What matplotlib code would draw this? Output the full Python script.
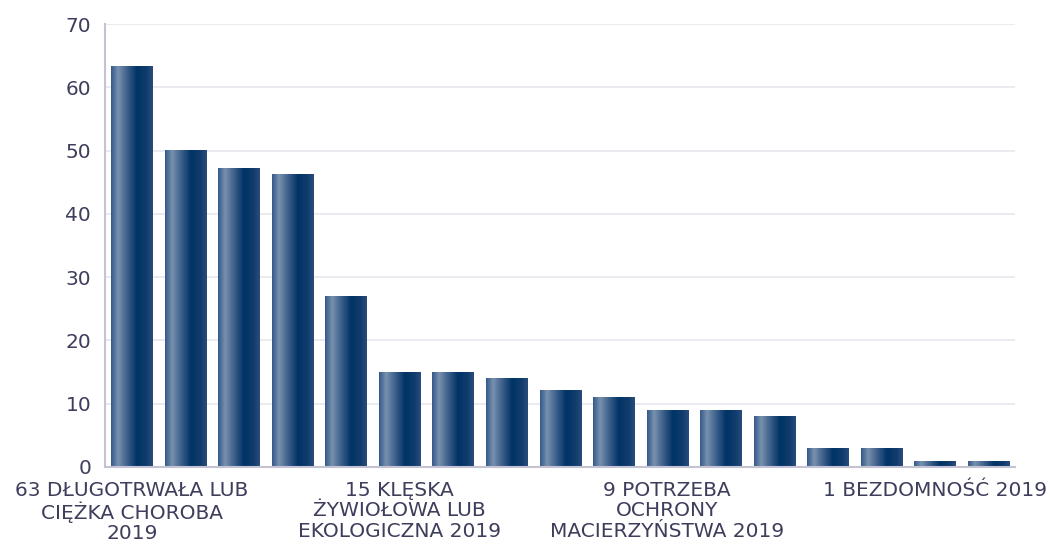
import numpy as np
import matplotlib
matplotlib.use('Agg')
import matplotlib.pyplot as plt
from matplotlib.colors import LinearSegmentedColormap

# values (17 bars, only every 5th labelled)
values = [63.3, 50.1, 47.3, 46.3, 27, 15, 15, 14, 12.1, 11.1, 9, 9, 8, 3, 3, 1, 1]
categories = ['63 DŁUGOTRWAŁA LUB\nCIĘŻKA CHOROBA\n2019', '', '', '', '',
              '15 KLĘSKA\nŻYWIOŁOWA LUB\nEKOLOGICZNA 2019', '', '', '', '',
              '9 POTRZEBA\nOCHRONY\nMACIERZYŃSTWA 2019', '', '', '', '',
              '1 BEZDOMNOŚĆ 2019', '']
y_ticks = [0, 10, 20, 30, 40, 50, 60, 70]

text_color = '#3d3d5c'
grid_color = '#e6e6ee'
axis_color = '#c3c3d3'

# horizontal gradient used to fill each bar
bar_cmap = LinearSegmentedColormap.from_list('bar', [
    (0.0, '#33598a'), (0.17, '#7891ae'), (0.38, '#3f618c'),
    (0.62, '#003366'), (0.85, '#103d6d'), (1.0, '#2a4c7c')])
grad = np.linspace(0, 1, 256).reshape(1, -1)

fig = plt.figure(figsize=(10.5, 5.46), dpi=100)
ax = fig.add_axes([0.1, 0.145, 0.867, 0.811])

x = np.arange(len(values))
bars = ax.bar(x, values, width=0.77, color='none', edgecolor='none', zorder=2)
for b in bars:
    x0, y0 = b.get_x(), b.get_y()
    im = ax.imshow(grad, cmap=bar_cmap, aspect='auto', zorder=2,
                   extent=[x0, x0 + b.get_width(), y0, y0 + b.get_height()])
    im.set_clip_path(b)

ax.set_xlim(-0.5, len(values) - 0.5)
ax.set_ylim(0, 70)
ax.set_yticks(y_ticks)
ax.set_xticks(x)
ax.set_xticklabels(categories, linespacing=1.1)

ax.grid(axis='y', color=grid_color, linewidth=1.2, zorder=0)
ax.set_axisbelow(True)
for side in ['top', 'right']:
    ax.spines[side].set_visible(False)
ax.spines['left'].set_color(axis_color)
ax.spines['bottom'].set_color(axis_color)
ax.spines['left'].set_linewidth(1.5)
ax.spines['bottom'].set_linewidth(1.5)
ax.tick_params(axis='both', length=0, labelsize=14.5, colors=text_color)
ax.tick_params(axis='y', pad=10)
ax.tick_params(axis='x', pad=10)

fig.savefig('out.png', dpi=100)
